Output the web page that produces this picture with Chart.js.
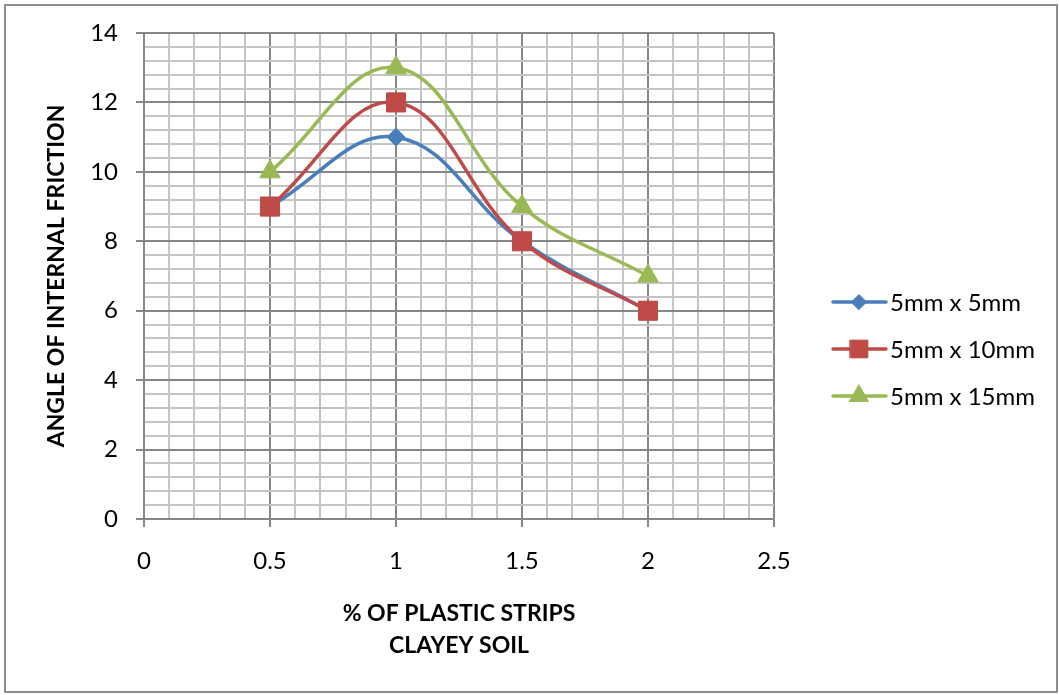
<!DOCTYPE html>
<html>
<head>
<meta charset="utf-8">
<title>Angle of internal friction – clayey soil</title>
<script src="https://cdn.jsdelivr.net/npm/chart.js@4/dist/chart.umd.min.js"></script>
<style>
  html, body { margin: 0; padding: 0; background: #ffffff; }
  #chart { display: block; }
</style>
</head>
<body>
<canvas id="chart" width="1059" height="695"></canvas>
<script>
// Percentage of plastic strips added to the clayey soil
const stripPercent = [0.5, 1, 1.5, 2];

// Angle of internal friction (degrees) for each strip size
const friction5x5 = [9, 11, 8, 6];
const friction5x10 = [9, 12, 8, 6];
const friction5x15 = [10, 13, 9, 7];

const seriesNames = ['5mm x 5mm', '5mm x 10mm', '5mm x 15mm'];
const seriesColors = ['#4a7ebb', '#be4b48', '#98b954'];
const seriesMarkers = ['rectRot', 'rect', 'triangle'];
const markerRadius = [9, 13.5, 12];

const xTitle = ['% OF PLASTIC STRIPS', 'CLAYEY SOIL'];
const yTitle = 'ANGLE OF INTERNAL FRICTION';

const FONT = 'Lato, "Open Sans", sans-serif';
const TICK_SIZE = 24;
const TITLE_SIZE = 23;
const MAJOR = '#868686';
const MINOR = '#c4c4c4';

function toPoints(values) {
  return values.map((v, i) => ({ x: stripPercent[i], y: v }));
}

const seriesValues = [friction5x5, friction5x10, friction5x15];
const datasets = seriesValues.map((vals, i) => ({
  label: seriesNames[i],
  data: toPoints(vals),
  showLine: true,
  borderColor: seriesColors[i],
  backgroundColor: seriesColors[i],
  borderWidth: 3.5,
  tension: 0.4,
  pointStyle: seriesMarkers[i],
  pointRadius: markerRadius[i],
  pointHoverRadius: markerRadius[i],
  pointBackgroundColor: seriesColors[i],
  pointBorderColor: seriesColors[i],
  pointBorderWidth: 1,
  order: 3 - i
}));

function isMultiple(v, step) {
  const q = v / step;
  return Math.abs(q - Math.round(q)) < 1e-6;
}

// Outer frame, axis titles and the line-with-marker legend
const decorations = {
  id: 'decorations',
  afterDraw(chart) {
    const ctx = chart.ctx;
    ctx.save();
    ctx.strokeStyle = '#8e8e8e';
    ctx.lineWidth = 2;
    ctx.strokeRect(5, 5, 1052, 687);

    ctx.fillStyle = '#000';
    ctx.font = 'bold ' + TITLE_SIZE + 'px ' + FONT;
    ctx.textAlign = 'center';
    ctx.textBaseline = 'middle';
    const area = chart.chartArea;
    const cx = (area.left + area.right) / 2;
    ctx.fillText(xTitle[0], cx, 614);
    ctx.fillText(xTitle[1], cx, 646);

    ctx.save();
    ctx.translate(57, (area.top + area.bottom) / 2);
    ctx.rotate(-Math.PI / 2);
    ctx.fillText(yTitle, 0, 0);
    ctx.restore();

    const rows = [302, 349, 396];
    ctx.font = TICK_SIZE + 'px ' + FONT;
    ctx.textAlign = 'left';
    chart.data.datasets.forEach((ds, i) => {
      const y = rows[i];
      ctx.strokeStyle = ds.borderColor;
      ctx.lineWidth = 3.5;
      ctx.lineCap = 'round';
      ctx.beginPath();
      ctx.moveTo(833, y);
      ctx.lineTo(886, y);
      ctx.stroke();
      ctx.fillStyle = ds.backgroundColor;
      ctx.strokeStyle = ds.borderColor;
      ctx.lineWidth = 1;
      Chart.helpers.drawPoint(ctx, {
        pointStyle: ds.pointStyle,
        radius: [7.5, 12.5, 11][i],
        rotation: 0,
        borderWidth: 1
      }, 859, y);
      ctx.fillStyle = '#000';
      ctx.fillText(ds.label, 890, y + 1);
    });
    ctx.restore();
  }
};

new Chart(document.getElementById('chart'), {
  type: 'scatter',
  data: { datasets },
  plugins: [decorations],
  options: {
    responsive: false,
    animation: false,
    devicePixelRatio: 1,
    layout: { padding: { left: 0, top: 33, right: 285, bottom: 0 } },
    plugins: {
      legend: { display: false },
      tooltip: { enabled: false },
      title: { display: false }
    },
    scales: {
      x: {
        type: 'linear',
        min: 0,
        max: 2.5,
        afterFit(scale) { scale.height = 176; },
        ticks: {
          stepSize: 0.1,
          autoSkip: false,
          maxRotation: 0,
          padding: 20,
          color: '#000',
          font: { family: FONT, size: TICK_SIZE },
          callback: v => isMultiple(v, 0.5) ? String(Math.round(v * 10) / 10) : ''
        },
        grid: {
          lineWidth: 2,
          tickLength: 8,
          color: c => isMultiple(c.tick.value, 0.5) ? MAJOR : MINOR,
          tickColor: c => isMultiple(c.tick.value, 0.5) ? MAJOR : 'rgba(0,0,0,0)'
        },
        border: { display: true, color: MAJOR, width: 2 }
      },
      y: {
        type: 'linear',
        min: 0,
        max: 14,
        afterFit(scale) { scale.width = 144; },
        ticks: {
          stepSize: 0.4,
          autoSkip: false,
          padding: 18,
          color: '#000',
          font: { family: FONT, size: TICK_SIZE },
          callback: v => isMultiple(v, 2) ? String(Math.round(v)) : ''
        },
        grid: {
          lineWidth: 2,
          tickLength: 8,
          color: c => isMultiple(c.tick.value, 2) ? MAJOR : MINOR,
          tickColor: c => isMultiple(c.tick.value, 2) ? MAJOR : 'rgba(0,0,0,0)'
        },
        border: { display: true, color: MAJOR, width: 2 }
      }
    }
  }
});
</script>
</body>
</html>
